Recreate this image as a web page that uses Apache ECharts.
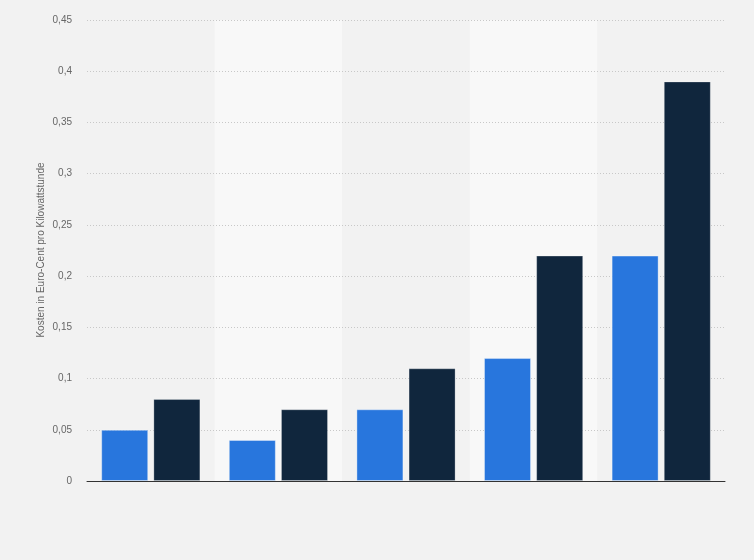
<!DOCTYPE html>
<html>
<head>
<meta charset="utf-8">
<script src="https://cdn.jsdelivr.net/npm/echarts@6/dist/echarts.min.js"></script>
<style>
html,body{margin:0;padding:0;background:#f2f2f2;}
#chart{width:754px;height:560px;}
</style>
</head>
<body>
<div id="chart"></div>
<script>
const categories = ['1', '2', '3', '4', '5'];
const seriesA = [0.05, 0.04, 0.07, 0.12, 0.22];
const seriesB = [0.08, 0.07, 0.11, 0.22, 0.39];
const yTicks = [0, 0.05, 0.1, 0.15, 0.2, 0.25, 0.3, 0.35, 0.4, 0.45];
const yTitle = 'Kosten in Euro-Cent pro Kilowattstunde';

const chart = echarts.init(document.getElementById('chart'));
chart.setOption({
  backgroundColor: '#f2f2f2',
  animation: false,
  grid: {left: 87, right: 29, top: 20, bottom: 79},
  graphic: [{
    type: 'text',
    x: 41,
    y: 250,
    rotation: Math.PI / 2,
    style: {
      text: yTitle,
      fill: '#666',
      fontSize: 10,
      fontFamily: 'Arial, Liberation Sans, sans-serif',
      align: 'center',
      verticalAlign: 'middle'
    }
  }],
  xAxis: [
    {
      type: 'category',
      data: categories,
      z: 0,
      axisLine: {show: false},
      axisTick: {show: false},
      axisLabel: {show: false},
      splitLine: {show: false},
      splitArea: {show: true, areaStyle: {color: ['#f2f2f2', '#f8f8f8']}}
    },
    {
      type: 'category',
      data: categories,
      position: 'bottom',
      z: 4,
      axisLine: {show: true, onZero: false, lineStyle: {color: '#333', width: 1}},
      axisTick: {show: false},
      axisLabel: {show: false},
      splitLine: {show: false},
      splitArea: {show: false}
    }
  ],
  yAxis: {
    type: 'value',
    min: 0,
    max: 0.45,
    interval: 0.05,
    z: 1,
    axisLine: {show: false},
    axisTick: {show: false},
    axisLabel: {
      color: '#666',
      fontSize: 10,
      fontFamily: 'Arial, Liberation Sans, sans-serif',
      margin: 15,
      formatter: function (v) {
        const t = yTicks.find(x => Math.abs(x - v) < 1e-9);
        const val = t !== undefined ? t : v;
        return String(parseFloat(val.toFixed(2))).replace('.', ',');
      }
    },
    splitLine: {lineStyle: {color: '#c8c8c8', type: [1, 2], width: 1}}
  },
  series: [
    {
      type: 'bar',
      data: seriesA,
      xAxisIndex: 0,
      barWidth: 47,
      barGap: '11%',
      z: 3,
      itemStyle: {color: '#2876dd', borderColor: 'rgba(255,255,255,0.35)', borderWidth: 1}
    },
    {
      type: 'bar',
      data: seriesB,
      xAxisIndex: 0,
      barWidth: 47,
      barGap: '11%',
      z: 3,
      itemStyle: {color: '#10263d', borderColor: 'rgba(255,255,255,0.25)', borderWidth: 1}
    }
  ]
});
</script>
</body>
</html>
